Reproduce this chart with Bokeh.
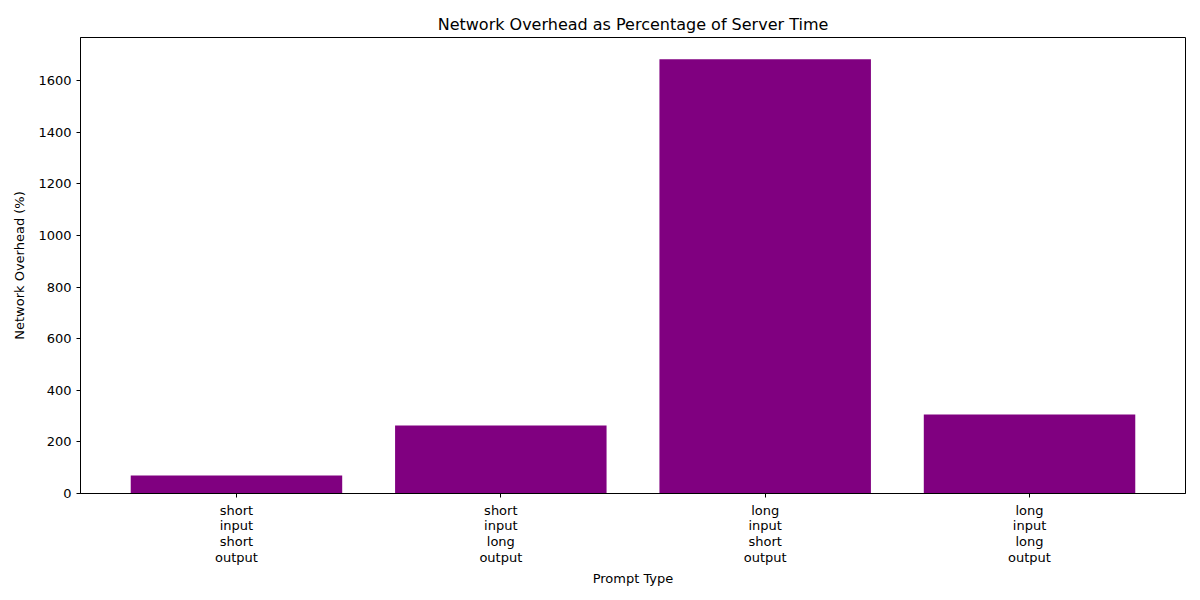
from bokeh.plotting import figure
from bokeh.models import FixedTicker, Range1d
from bokeh.embed import file_html
from bokeh.resources import INLINE

categories = ["short\ninput\nshort\noutput", "short\ninput\nlong\noutput",
              "long\ninput\nshort\noutput", "long\ninput\nlong\noutput"]
overhead = [70, 264, 1683, 306]
y_ticks = [0, 200, 400, 600, 800, 1000, 1200, 1400, 1600]

xs = list(range(len(categories)))
FONT = "DejaVu Sans"

p = figure(width=1200, height=600, frame_width=1105, frame_height=456,
           output_backend="svg", toolbar_location=None,
           x_range=Range1d(-0.59, 3.59), y_range=Range1d(0, max(overhead) * 1.05),
           title="Network Overhead as Percentage of Server Time",
           x_axis_label="Prompt Type", y_axis_label="Network Overhead (%)",
           min_border_left=80, min_border_right=15, min_border_top=37, min_border_bottom=107)

p.vbar(x=xs, top=overhead, width=0.8, bottom=0, fill_color="#800080", line_color=None)

p.title.align = "center"
p.title.text_font = FONT
p.title.text_font_size = "16px"
p.title.text_font_style = "normal"
p.title.text_color = "black"
p.title.standoff = 8

p.xgrid.visible = False
p.ygrid.visible = False
p.outline_line_color = "black"
p.outline_line_width = 1
p.outline_line_alpha = 1

p.xaxis.ticker = FixedTicker(ticks=xs)
p.xaxis.major_label_overrides = {i: c for i, c in zip(xs, categories)}
p.yaxis.ticker = FixedTicker(ticks=y_ticks)

for ax in (p.xaxis, p.yaxis):
    ax.axis_line_color = "black"
    ax.major_tick_in = 0
    ax.major_tick_out = 4
    ax.minor_tick_line_color = None
    ax.major_tick_line_color = "black"
    ax.major_label_text_font = FONT
    ax.major_label_text_font_size = "13px"
    ax.major_label_text_color = "black"
    ax.axis_label_text_font = FONT
    ax.axis_label_text_font_size = "13px"
    ax.axis_label_text_font_style = "normal"
    ax.axis_label_text_color = "black"
    ax.major_label_standoff = 5
    ax.axis_label_standoff = 8

p.xaxis.major_label_text_line_height = 1.05
p.xaxis.axis_label_standoff = 3

open("out.html", "w").write(file_html(p, INLINE))
